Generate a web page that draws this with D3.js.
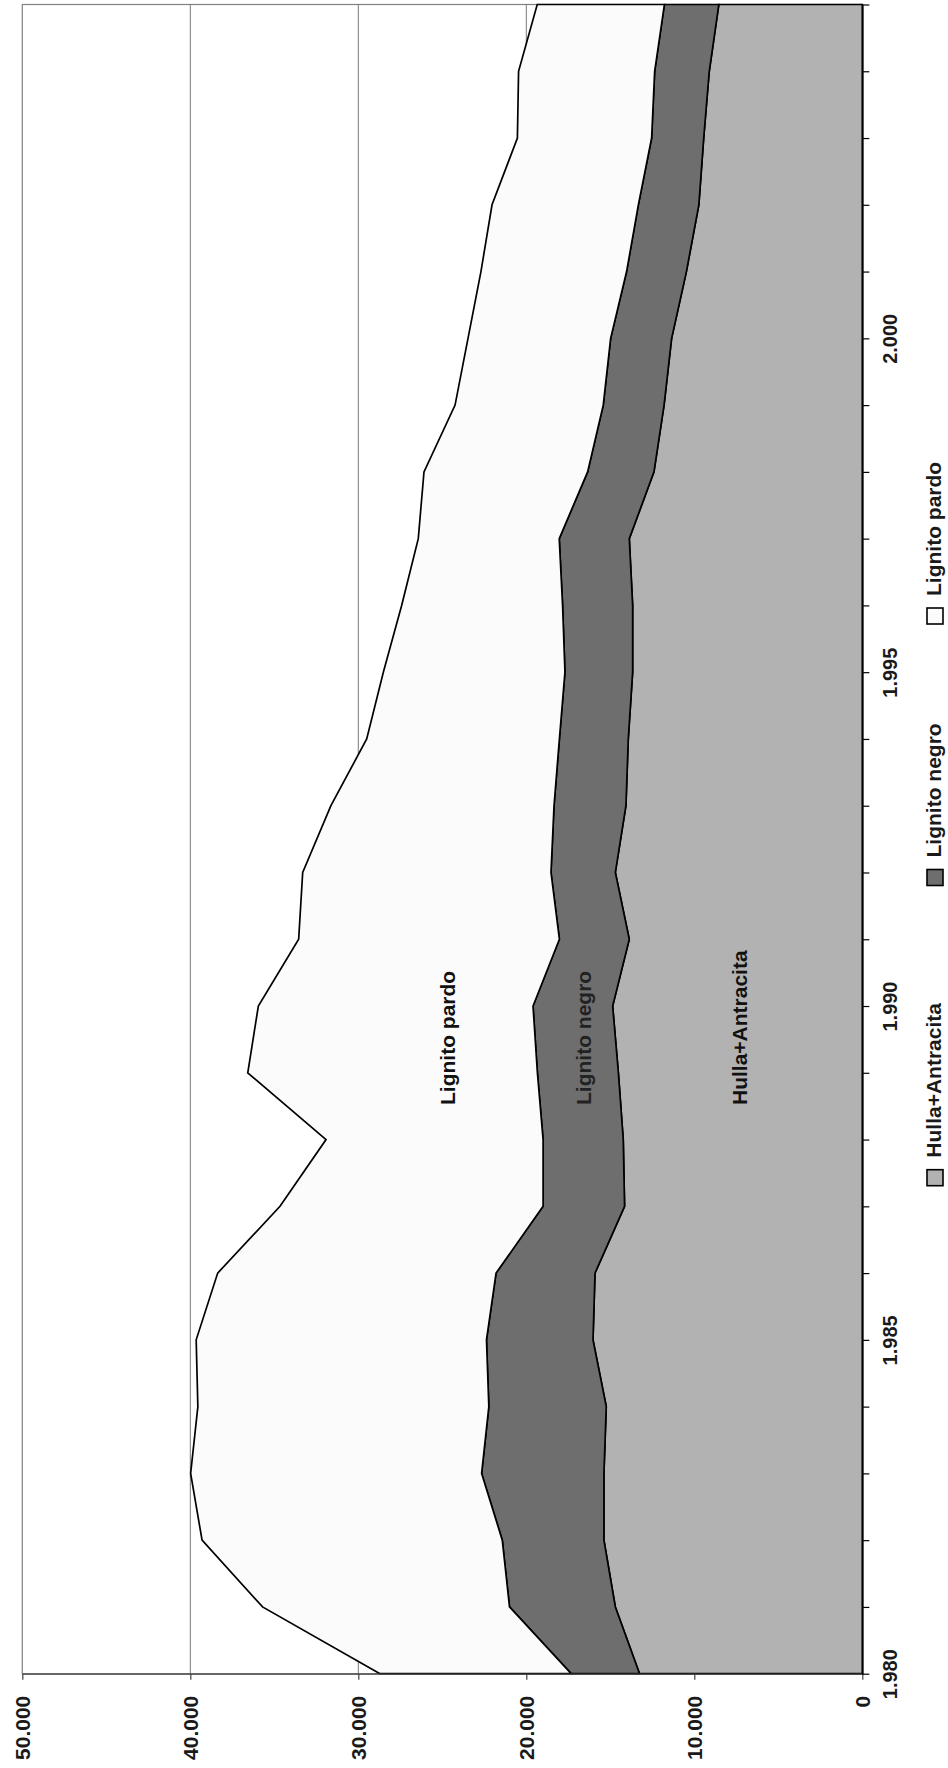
<!DOCTYPE html>
<html>
<head>
<meta charset="utf-8">
<script src="https://cdn.jsdelivr.net/npm/d3@7"></script>
<style>
  html, body { margin: 0; padding: 0; background: #fff; }
  svg { display: block; }
  text { font-family: "Liberation Sans", Arial, Helvetica, sans-serif; }
</style>
</head>
<body>
<svg id="chart" width="948" height="1768"></svg>
<script>
// Consumo de carbón por tipo (miles de t), 1980-2005
const years = [1980, 1981, 1982, 1983, 1984, 1985, 1986, 1987, 1988, 1989, 1990, 1991, 1992,
               1993, 1994, 1995, 1996, 1997, 1998, 1999, 2000, 2001, 2002, 2003, 2004, 2005];
const hullaAntracita = [13260, 14700, 15380, 15380, 15240, 16030, 15910, 14150, 14230, 14520, 14860, 13870, 14700,
                        14070, 13930, 13670, 13670, 13870, 12400, 11800, 11350, 10470, 9730, 9440, 9110, 8540];
const lignitoNegro = [4070, 6300, 6050, 7280, 6990, 6340, 5890, 4850, 4770, 4820, 4740, 4160, 3830,
                      4280, 4100, 4030, 4170, 4170, 3950, 3620, 3630, 3560, 3600, 3100, 3250, 3240];
const lignitoPardo = [11380, 14700, 17870, 17320, 17320, 17280, 16570, 15660, 12920, 17240, 16350, 15520, 14780,
                      13280, 11470, 10810, 9580, 8390, 9740, 8820, 8490, 8670, 8710, 7990, 8100, 7570];
const seriesNames = ["Hulla+Antracita", "Lignito negro", "Lignito pardo"];
const valueTicks = [0, 10000, 20000, 30000, 40000, 50000];
const yearLabelTicks = [1980, 1985, 1990, 1995, 2000];

const fills = ["#b2b2b2", "#6e6e6e", "#fbfbfb"];
const fmt = d3.formatLocale({ decimal: ",", thousands: ".", grouping: [3], currency: ["", " €"] }).format(",d");

const svg = d3.select("#chart");
const plot = { left: 22.3, right: 862.3, top: 4.5, bottom: 1673.7 };

// The chart is laid on its side: values grow leftwards, years grow upwards.
const x = d3.scaleLinear().domain([0, 50000]).range([plot.right, plot.left]);
const y = d3.scaleLinear().domain([1980, 2005]).range([plot.bottom, plot.top]);

const keys = ["hulla", "negro", "pardo"];
const rows = years.map((yr, i) => ({ year: yr, hulla: hullaAntracita[i], negro: lignitoNegro[i], pardo: lignitoPardo[i] }));
const layers = d3.stack().keys(keys)(rows);

// Plot frame and gridlines
svg.append("rect")
  .attr("x", plot.left).attr("y", plot.top)
  .attr("width", plot.right - plot.left).attr("height", plot.bottom - plot.top)
  .attr("fill", "#fff").attr("stroke", "#808080").attr("stroke-width", 1.2);

svg.append("g").selectAll("line")
  .data(valueTicks.filter(v => v > 0 && v < 50000))
  .join("line")
  .attr("x1", d => x(d)).attr("x2", d => x(d))
  .attr("y1", plot.top).attr("y2", plot.bottom)
  .attr("stroke", "#7a7a7a").attr("stroke-width", 1);

// Stacked areas
const area = d3.area()
  .y(d => y(d.data.year))
  .x0(d => x(d[0]))
  .x1(d => x(d[1]));

svg.append("g").selectAll("path")
  .data(layers)
  .join("path")
  .attr("d", area)
  .attr("fill", (d, i) => fills[i])
  .attr("stroke", "#000")
  .attr("stroke-width", 1.7)
  .attr("stroke-linejoin", "miter");

// Value axis along the bottom
const xAxis = svg.append("g")
  .attr("transform", `translate(0,${plot.bottom})`)
  .call(d3.axisBottom(x).tickValues(valueTicks).tickSize(6).tickSizeOuter(0).tickFormat(fmt));
xAxis.select(".domain").attr("stroke", "#404040").attr("stroke-width", 1.2);
xAxis.selectAll(".tick line").attr("stroke", "#404040").attr("stroke-width", 1.2);
xAxis.selectAll(".tick text")
  .attr("transform", "rotate(-90)")
  .attr("x", -22).attr("y", 0).attr("dy", "0.36em")
  .attr("text-anchor", "end")
  .attr("font-size", 21).attr("font-weight", "bold").attr("fill", "#1a1a1a");

// Year axis along the right side
const yAxis = svg.append("g")
  .attr("transform", `translate(${plot.right},0)`)
  .call(d3.axisRight(y).tickValues(years).tickSize(7).tickSizeOuter(0)
    .tickFormat(d => yearLabelTicks.includes(d) ? fmt(d) : ""));
yAxis.select(".domain").attr("stroke", "#000").attr("stroke-width", 1.6);
yAxis.selectAll(".tick line").attr("stroke", "#000").attr("stroke-width", 1.2);
yAxis.selectAll(".tick text")
  .attr("transform", "rotate(-90)")
  .attr("x", 0).attr("y", 27.5).attr("dy", "0.36em")
  .attr("text-anchor", "middle")
  .attr("font-size", 20).attr("font-weight", "bold").attr("fill", "#1a1a1a");

// Series names inside the areas
const inner = [
  { name: seriesNames[2], bx: 455, color: "#111" },
  { name: seriesNames[1], bx: 591, color: "#222" },
  { name: seriesNames[0], bx: 747, color: "#111" }
];
svg.append("g").selectAll("text")
  .data(inner)
  .join("text")
  .attr("transform", d => `translate(${d.bx},1105) rotate(-90)`)
  .attr("text-anchor", "start")
  .attr("font-size", 21).attr("font-weight", "bold")
  .attr("fill", d => d.color)
  .text(d => d.name);

// Legend
const legendItems = [
  { name: seriesNames[0], fill: fills[0], cy: 1177.7 },
  { name: seriesNames[1], fill: fills[1], cy: 877.5 },
  { name: seriesNames[2], fill: fills[2], cy: 616 }
];
const lg = svg.append("g").selectAll("g").data(legendItems).join("g");
lg.append("rect")
  .attr("x", 927).attr("y", d => d.cy - 8)
  .attr("width", 16).attr("height", 16)
  .attr("fill", d => d.fill).attr("stroke", "#000").attr("stroke-width", 1.6);
lg.append("text")
  .attr("transform", d => `translate(941,${d.cy - 20}) rotate(-90)`)
  .attr("text-anchor", "start")
  .attr("font-size", 21).attr("font-weight", "bold").attr("fill", "#1a1a1a")
  .text(d => d.name);
</script>
</body>
</html>
